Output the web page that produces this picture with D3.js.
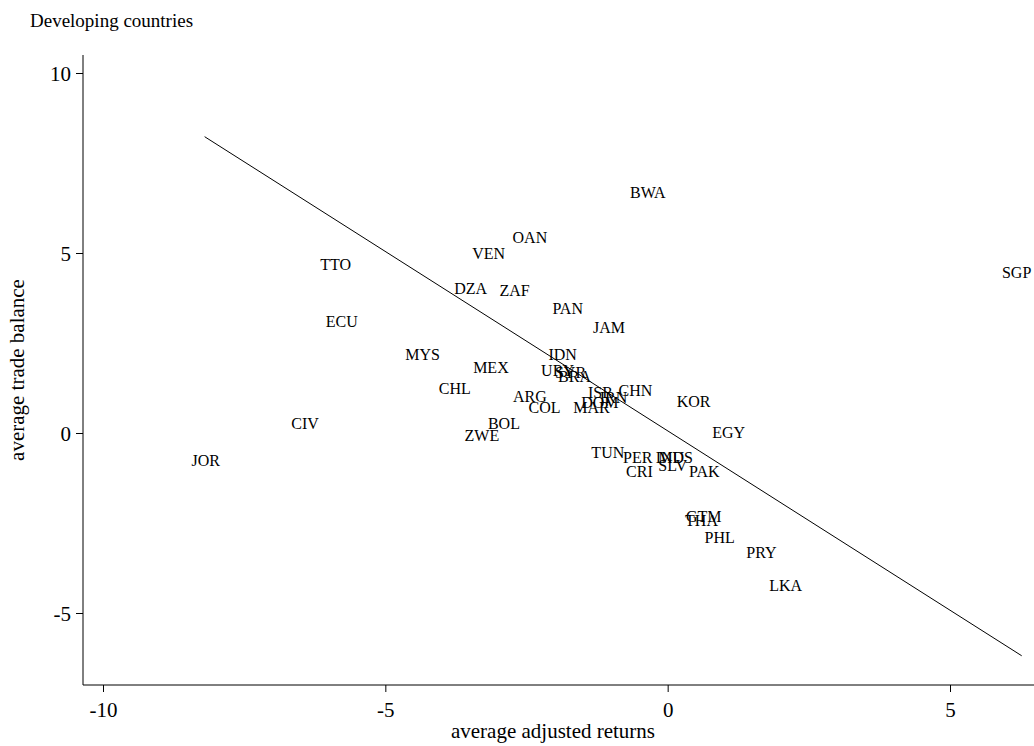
<!DOCTYPE html>
<html><head><meta charset="utf-8">
<script src="https://cdn.jsdelivr.net/npm/d3@7"></script>
<style>body{margin:0;background:#fff}text{font-family:"Liberation Serif","Times New Roman",serif}</style>
</head><body>
<svg id="c" width="1034" height="746"></svg>
<script>
// country codes and their (adjusted returns, trade balance)
const codes = ['BWA','OAN','VEN','TTO','SGP','DZA','ZAF','PAN','ECU','JAM','MYS','IDN','MEX','URY','SYR','BRA','CHL','ISR','CHN','IRN','ARG','KOR','DOM','COL','MAR','BOL','CIV','EGY','ZWE','JOR','TUN','PER','IND','MUS','SLV','CRI','PAK','GTM','THA','PHL','PRY','LKA'];
const returns = [-0.35,-2.44,-3.17,-5.88,6.18,-3.49,-2.71,-1.77,-5.77,-1.04,-4.34,-1.86,-3.13,-1.95,-1.72,-1.65,-3.77,-1.19,-0.57,-0.96,-2.44,0.46,-1.2,-2.18,-1.35,-2.9,-6.42,1.08,-3.29,-8.18,-1.06,-0.53,0.04,0.14,0.09,-0.5,0.65,0.64,0.6,0.92,1.66,2.09];
const balance = [6.67,5.44,5.0,4.67,4.47,4.03,3.97,3.47,3.11,2.94,2.17,2.17,1.83,1.75,1.69,1.56,1.25,1.14,1.17,1.0,1.03,0.89,0.86,0.72,0.72,0.28,0.28,0.03,-0.08,-0.75,-0.53,-0.67,-0.67,-0.67,-0.89,-1.08,-1.06,-2.33,-2.42,-2.89,-3.31,-4.22];
const fitX = [-8.2, 6.27];
const fitIntercept = 0.06, fitSlope = -0.9965;
const xTicks = [-10, -5, 0, 5];
const yTicks = [-5, 0, 5, 10];

const svg = d3.select('#c');
const x = d3.scaleLinear().domain([-10, 5]).range([103, 950]);
const y = d3.scaleLinear().domain([-5, 10]).range([613, 73]);
const left = 83, bottom = 685;

// axes
const xAxis = svg.append('g').attr('transform', `translate(0,${bottom})`)
    .call(d3.axisBottom(x).tickValues(xTicks).tickSize(7).tickFormat(d => String(d)));
xAxis.select('.domain').attr('d', `M${left},0H1034`);
const yAxis = svg.append('g').attr('transform', `translate(${left},0)`)
    .call(d3.axisLeft(y).tickValues(yTicks).tickSize(7).tickFormat(d => String(d)));
yAxis.select('.domain').attr('d', `M0,55V${bottom}`);
svg.selectAll('.tick text').attr('font-size', 21).attr('font-family', '"Liberation Serif",serif').attr('fill', '#000');
xAxis.selectAll('.tick text').attr('dy', '1.05em');
yAxis.selectAll('.tick text').attr('x', -12).attr('dy', '0.35em');

// fitted line
svg.append('line')
    .attr('x1', x(fitX[0])).attr('y1', y(fitIntercept + fitSlope * fitX[0]))
    .attr('x2', x(fitX[1])).attr('y2', y(fitIntercept + fitSlope * fitX[1]))
    .attr('stroke', '#000').attr('stroke-width', 1);

// country labels
svg.append('g').selectAll('text').data(codes).join('text')
    .attr('x', (d, i) => x(returns[i])).attr('y', (d, i) => y(balance[i]))
    .attr('text-anchor', 'middle').attr('dy', '0.35em')
    .attr('font-size', 16).text(d => d);

svg.append('text').attr('x', 30).attr('y', 27).attr('font-size', 19).text('Developing countries');
svg.append('text').attr('x', 553).attr('y', 738).attr('text-anchor', 'middle').attr('font-size', 21).text('average adjusted returns');
svg.append('text').attr('transform', 'translate(24,370) rotate(-90)').attr('text-anchor', 'middle').attr('font-size', 21).text('average trade balance');
</script>
</body></html>
